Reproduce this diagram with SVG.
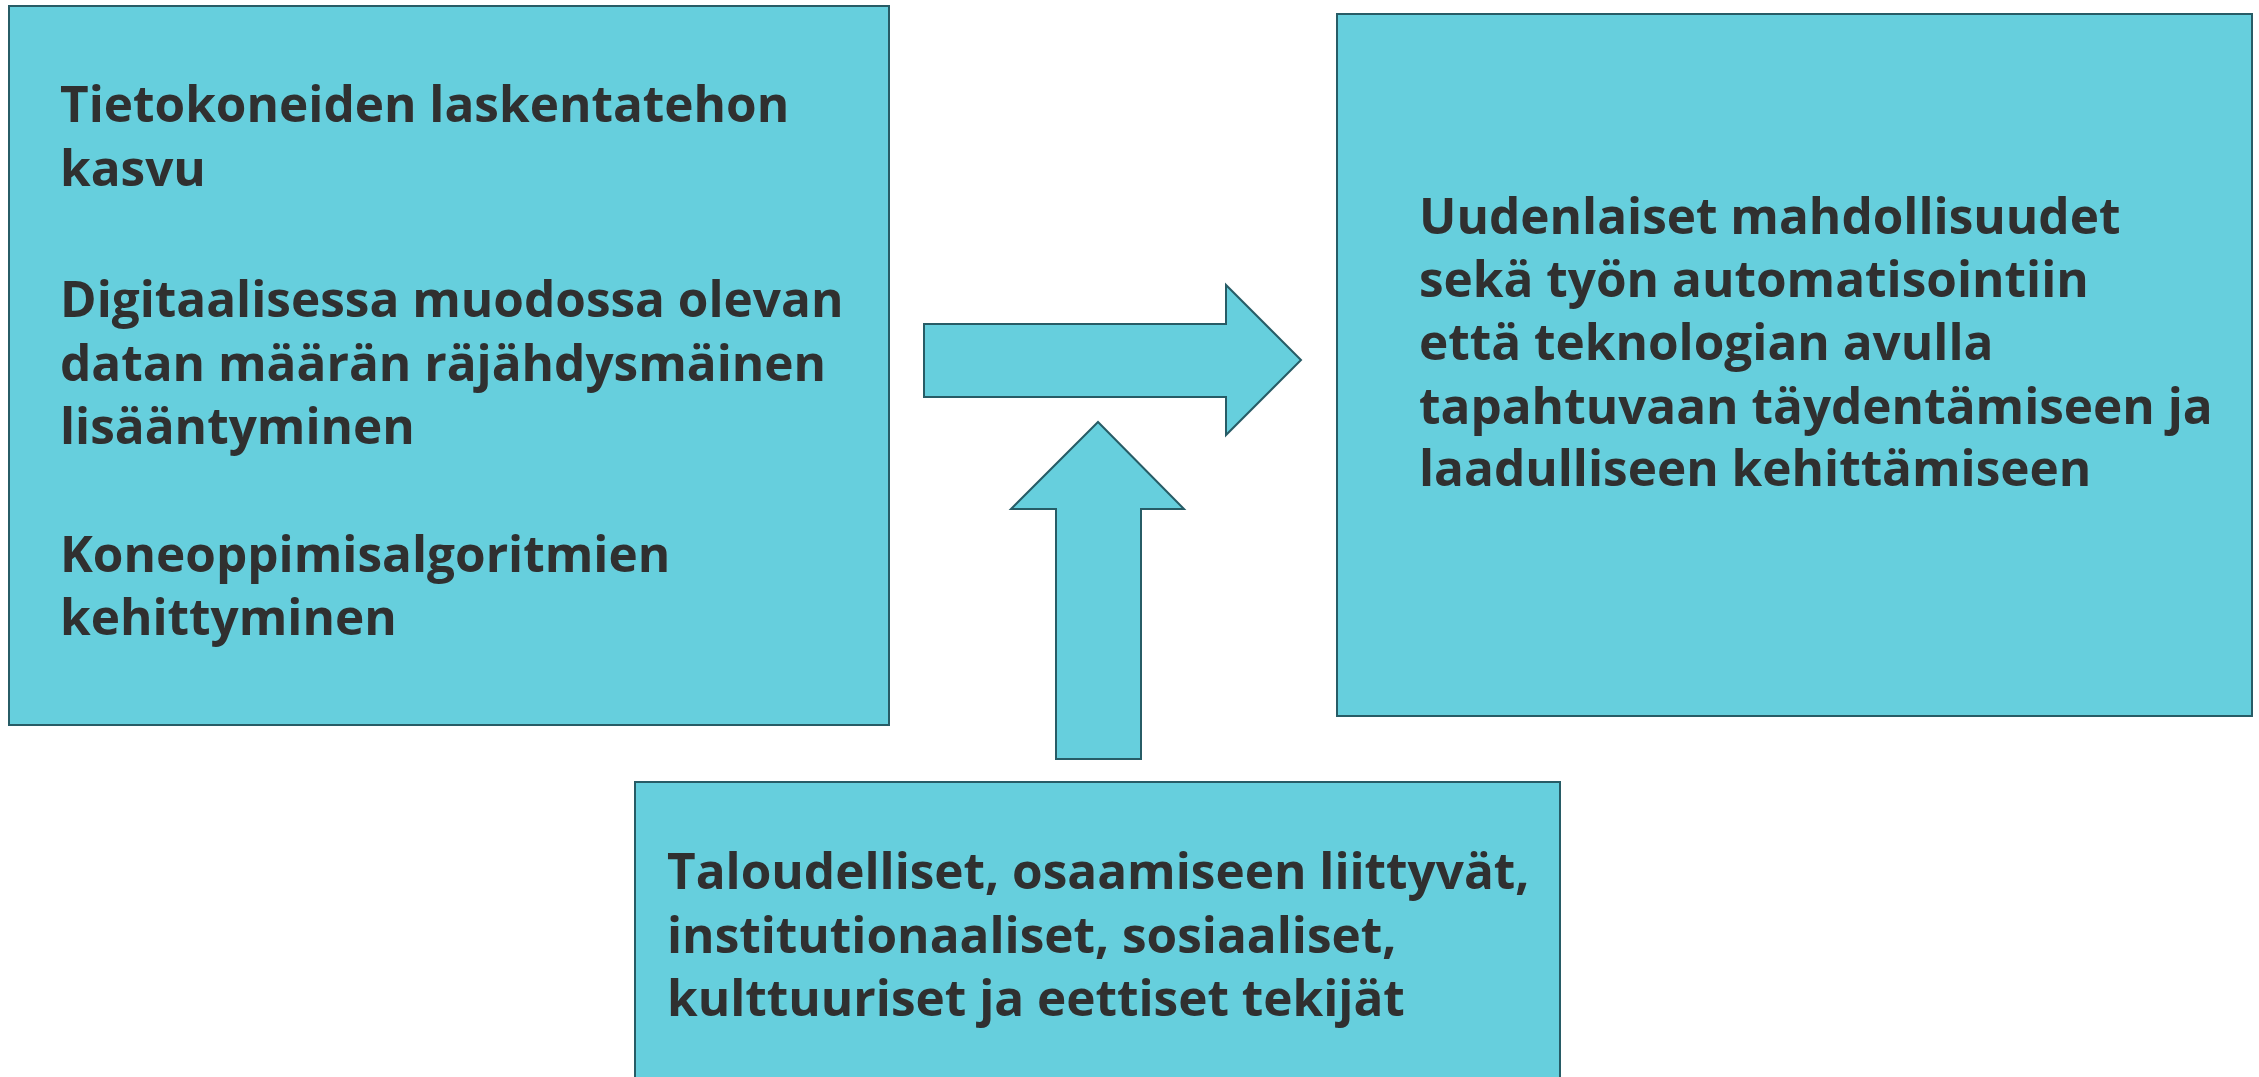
<svg xmlns="http://www.w3.org/2000/svg" width="2259" height="1077" viewBox="0 0 2259 1077">
<style>
.box{fill:#66CFDD;stroke:#275C66;stroke-width:2}
.arr{fill:#66CFDD;stroke:#275C66;stroke-width:2;stroke-linejoin:miter}
.t{font-family:"Open Sans","Noto Sans","Liberation Sans",sans-serif;font-weight:700;font-size:49.5px;fill:#303030}
</style>
<rect width="2259" height="1077" fill="#FFFFFF"/>
<g id="left-box">
<rect class="box" x="9" y="6" width="880" height="719"/>
<text class="t" x="60" y="122">Tietokoneiden laskentatehon</text>
<text class="t" x="60" y="186">kasvu</text>
<text class="t" x="60" y="317">Digitaalisessa muodossa olevan</text>
<text class="t" x="60" y="381">datan määrän räjähdysmäinen</text>
<text class="t" x="60" y="444">lisääntyminen</text>
<text class="t" x="60" y="572">Koneoppimisalgoritmien</text>
<text class="t" x="60" y="635">kehittyminen</text>
</g>
<g id="right-box">
<rect class="box" x="1337" y="14" width="915" height="702"/>
<text class="t" x="1419" y="234">Uudenlaiset mahdollisuudet</text>
<text class="t" x="1419" y="297">sekä työn automatisointiin</text>
<text class="t" x="1419" y="360">että teknologian avulla</text>
<text class="t" x="1419" y="424">tapahtuvaan täydentämiseen ja</text>
<text class="t" x="1419" y="486">laadulliseen kehittämiseen</text>
</g>
<g id="bottom-box">
<rect class="box" x="635" y="782" width="925" height="310"/>
<text class="t" x="667" y="889">Taloudelliset, osaamiseen liittyvät,</text>
<text class="t" x="667" y="953">institutionaaliset, sosiaaliset,</text>
<text class="t" x="667" y="1016">kulttuuriset ja eettiset tekijät</text>
</g>
<g id="connectors">
<polygon id="arrow-right" class="arr" points="924,324 1226,324 1226,285 1301,360 1226,435 1226,397 924,397"/>
<polygon id="arrow-up" class="arr" points="1056,759 1056,509 1011,509 1098,422 1184,509 1141,509 1141,759"/>
</g>
</svg>
